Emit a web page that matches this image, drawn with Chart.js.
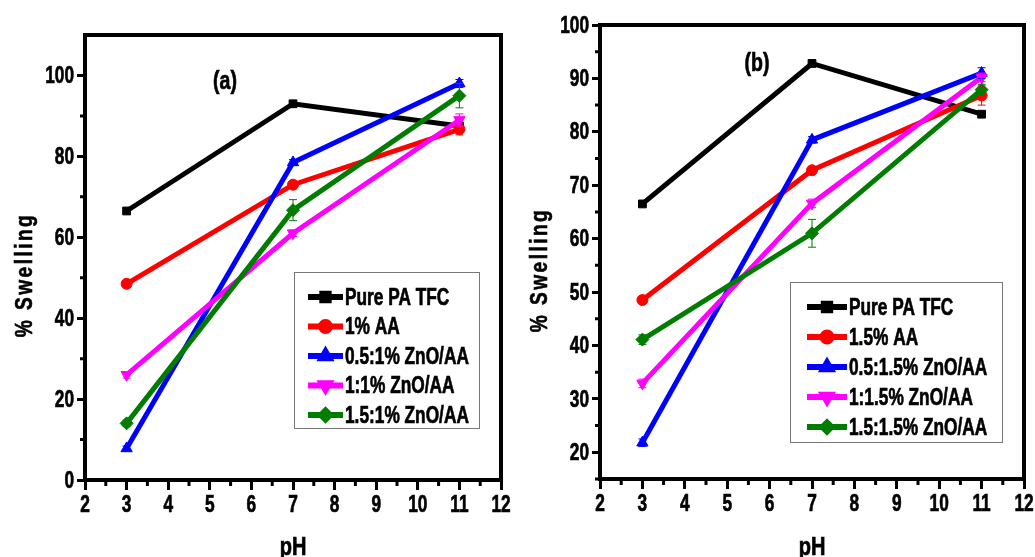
<!DOCTYPE html>
<html>
<head>
<meta charset="utf-8">
<script src="https://cdn.jsdelivr.net/npm/chart.js@4.4.1/dist/chart.umd.min.js"></script>
<style>
  html, body { margin: 0; padding: 0; background: #fff; }
  #wrap { display: flex; width: 1035px; height: 557px; }
  .panel { position: relative; height: 557px; }
  #panelA { width: 515px; }
  #panelB { width: 520px; }
</style>
</head>
<body>
<div id="wrap">
  <div class="panel" id="panelA"><canvas id="chartA"></canvas></div>
  <div class="panel" id="panelB"><canvas id="chartB"></canvas></div>
</div>
<script>
/* ===== DATA ===== */
const phPoints = [3, 7, 11];

const labelsA = ["Pure PA TFC", "1% AA", "0.5:1% ZnO/AA", "1:1% ZnO/AA", "1.5:1% ZnO/AA"];
const labelsB = ["Pure PA TFC", "1.5% AA", "0.5:1.5% ZnO/AA", "1:1.5% ZnO/AA", "1.5:1.5% ZnO/AA"];

// panel (a)
const pureA = [66.5, 93, 87.5];
const aa1 = [48.5, 73, 86.7];
const zno05A = [7.8, 78.5, 98];
const zno1A = [26, 61, 89];
const zno15A = [14, 66.7, 95];
const errA = [
  [0, 0, 0],
  [0.6, 0.6, 1.4],
  [0.6, 0.7, 1],
  [0.8, 0.8, 1.5],
  [0.8, 2.6, 3],
];

// panel (b)
const pureB = [66.5, 92.8, 83.3];
const aa15 = [48.5, 72.8, 86.8];
const zno05B = [21.8, 78.5, 91];
const zno1B = [32.9, 66.6, 90.2];
const zno15B = [41.1, 61, 87.9];
const errB = [
  [0, 0, 0],
  [0.6, 0.5, 1.8],
  [0.7, 0.6, 1],
  [0.8, 0.8, 0.8],
  [0.9, 2.6, 1],
];

const colors = ["#000000", "#ff0000", "#0000ff", "#ff00ff", "#007d00"];
const styles = [
  { pointStyle: "rect", rotation: 0, radius: 5.5 },
  { pointStyle: "circle", rotation: 0, radius: 5.5 },
  { pointStyle: "triangle", rotation: 0, radius: 6.5 },
  { pointStyle: "triangle", rotation: 180, radius: 6.5 },
  { pointStyle: "rectRot", rotation: 0, radius: 6.5 },
];

const SANS = "'Liberation Sans', Arial, sans-serif";

/* ===== HELPERS ===== */
function marker(ctx, st, color, x, y) {
  ctx.fillStyle = color;
  ctx.strokeStyle = color;
  Chart.helpers.drawPoint(ctx, {
    pointStyle: st.pointStyle,
    rotation: st.rotation,
    radius: st.radius,
    borderWidth: 1,
  }, x, y);
}

// narrow heavy text (Arial Narrow Bold look) by squeezing Liberation Sans
function narrowText(ctx, text, x, y, size, align, sx) {
  ctx.save();
  ctx.translate(x, y);
  ctx.scale(sx, 1);
  ctx.font = "bold " + size + "px " + SANS;
  ctx.textAlign = align;
  ctx.textBaseline = "middle";
  ctx.fillStyle = "#000";
  ctx.strokeStyle = "#000";
  ctx.lineWidth = 0.7;
  ctx.fillText(text, 0, 0);
  ctx.strokeText(text, 0, 0);
  ctx.restore();
}

const decor = {
  id: "decor",
  afterDatasetsDraw(chart, args, o) {
    const ctx = chart.ctx;
    const xs = chart.scales.x;
    const ys = chart.scales.y;

    // error bars
    chart.data.datasets.forEach((ds) => {
      ctx.save();
      ctx.strokeStyle = ds.borderColor;
      ctx.lineWidth = 1;
      ds.data.forEach((p, i) => {
        const e = ds.errors[i];
        if (!e) return;
        const x = xs.getPixelForValue(p.x);
        const y1 = ys.getPixelForValue(p.y + e);
        const y2 = ys.getPixelForValue(p.y - e);
        ctx.beginPath();
        ctx.moveTo(x, y1); ctx.lineTo(x, y2);
        ctx.moveTo(x - 4, y1); ctx.lineTo(x + 4, y1);
        ctx.moveTo(x - 4, y2); ctx.lineTo(x + 4, y2);
        ctx.stroke();
      });
      ctx.restore();
    });
  },
  afterDraw(chart, args, o) {
    const ctx = chart.ctx;
    const xs = chart.scales.x;
    const ys = chart.scales.y;
    const a = chart.chartArea;
    ctx.save();

    // minor ticks
    ctx.strokeStyle = "#000";
    ctx.lineWidth = 3;
    ctx.beginPath();
    for (let v = xs.min + o.minorX; v < xs.max; v += o.minorX * 2) {
      const x = xs.getPixelForValue(v);
      ctx.moveTo(x, a.bottom); ctx.lineTo(x, a.bottom + 6);
    }
    for (let v = o.minorYStart; v < ys.max; v += o.minorY * 2) {
      const y = ys.getPixelForValue(v);
      ctx.moveTo(a.left, y); ctx.lineTo(a.left - 5, y);
    }
    ctx.stroke();

    // frame
    ctx.lineWidth = 4;
    ctx.strokeRect(a.left, a.top, a.right - a.left, a.bottom - a.top);

    // tick labels from the scales
    xs.ticks.forEach((t) => {
      narrowText(ctx, String(t.value), xs.getPixelForValue(t.value), a.bottom + 25, 24, "center", 0.72);
    });
    ys.ticks.forEach((t) => {
      narrowText(ctx, String(t.value), a.left - 11, ys.getPixelForValue(t.value) + 1, 24, "right", 0.72);
    });

    // legend box
    const lg = o.legend;
    ctx.lineWidth = 1;
    ctx.strokeStyle = "#777";
    ctx.strokeRect(lg.x + 0.5, lg.y + 0.5, lg.w, lg.h);
    chart.data.datasets.forEach((ds, i) => {
      const y = lg.row0 + i * lg.gap;
      ctx.strokeStyle = ds.borderColor;
      ctx.lineWidth = 6;
      ctx.beginPath();
      ctx.moveTo(lg.lineX, y);
      ctx.lineTo(lg.lineX + lg.lineLen, y);
      ctx.stroke();
      marker(ctx, { ...styles[i], radius: 4.5 }, ds.borderColor, lg.lineX + lg.lineLen / 2, y);
      narrowText(ctx, ds.label, lg.lineX + lg.lineLen + 2, y + 1, 24, "left", 0.72);
    });

    // panel tag
    narrowText(ctx, o.tag, o.tagX, o.tagY, 25, "center", 0.78);

    // x title
    narrowText(ctx, "pH", (a.left + a.right) / 2, 548, 25, "center", 0.8);

    // y title
    ctx.translate(o.yTitleX, o.yTitleY);
    ctx.rotate(-Math.PI / 2);
    ctx.scale(0.8, 1);
    ctx.font = "bold 24px " + SANS;
    ctx.letterSpacing = "3px";
    ctx.fillStyle = "#000";
    ctx.strokeStyle = "#000";
    ctx.lineWidth = 0.6;
    ctx.textAlign = "center";
    ctx.textBaseline = "middle";
    ctx.fillText("% Swelling", 0, 0);
    ctx.strokeText("% Swelling", 0, 0);
    ctx.restore();
  },
};

function buildDatasets(labels, series, errs) {
  return series.map((vals, i) => ({
    label: labels[i],
    data: phPoints.map((x, j) => ({ x: x, y: vals[j] })),
    errors: errs[i],
    borderColor: colors[i],
    backgroundColor: colors[i],
    borderWidth: 5,
    tension: 0,
    pointStyle: styles[i].pointStyle,
    rotation: styles[i].rotation,
    pointRadius: styles[i].radius,
    pointBorderWidth: 1,
    order: 4 - i,
  }));
}

function makeChart(id, datasets, yOpt, pad, xHeight, deco) {
  return new Chart(document.getElementById(id), {
    type: "line",
    data: { datasets: datasets },
    plugins: [decor],
    options: {
      responsive: true,
      maintainAspectRatio: false,
      animation: false,
      layout: { padding: pad },
      scales: {
        x: {
          type: "linear",
          min: 2,
          max: 12,
          ticks: { stepSize: 1, display: false },
          grid: { drawOnChartArea: false, tickLength: 10, tickWidth: 3, tickColor: "#000" },
          border: { display: false },
          afterFit: (s) => { s.height = xHeight; },
        },
        y: {
          min: yOpt.min,
          max: yOpt.max,
          ticks: { stepSize: yOpt.step, includeBounds: false, display: false },
          grid: { drawOnChartArea: false, tickLength: 8, tickWidth: 3, tickColor: "#000" },
          border: { display: false },
          afterFit: (s) => { s.width = 85; },
        },
      },
      plugins: {
        legend: { display: false },
        tooltip: { enabled: false },
        decor: deco,
      },
    },
  });
}

/* ===== PANEL (a) ===== */
makeChart(
  "chartA",
  buildDatasets(labelsA, [pureA, aa1, zno05A, zno1A, zno15A], errA),
  { min: 0, max: 110, step: 20 },
  { top: 35, right: 14, left: 0, bottom: 0 },
  77,
  {
    tag: "(a)", tagX: 225, tagY: 82,
    yTitleX: 25, yTitleY: 275,
    minorX: 0.5, minorY: 10, minorYStart: 10,
    legend: { x: 294, y: 272, w: 185, h: 156, lineX: 308, lineLen: 35, row0: 297, gap: 29.5 },
  }
);

/* ===== PANEL (b) ===== */
makeChart(
  "chartB",
  buildDatasets(labelsB, [pureB, aa15, zno05B, zno1B, zno15B], errB),
  { min: 15, max: 100, step: 10 },
  { top: 25, right: 11, left: 0, bottom: 0 },
  78,
  {
    tag: "(b)", tagX: 242, tagY: 64,
    yTitleX: 25, yTitleY: 270,
    minorX: 0.5, minorY: 5, minorYStart: 15,
    legend: { x: 275, y: 282, w: 212, h: 160, lineX: 292, lineLen: 40, row0: 307, gap: 30 },
  }
);
</script>
</body>
</html>
